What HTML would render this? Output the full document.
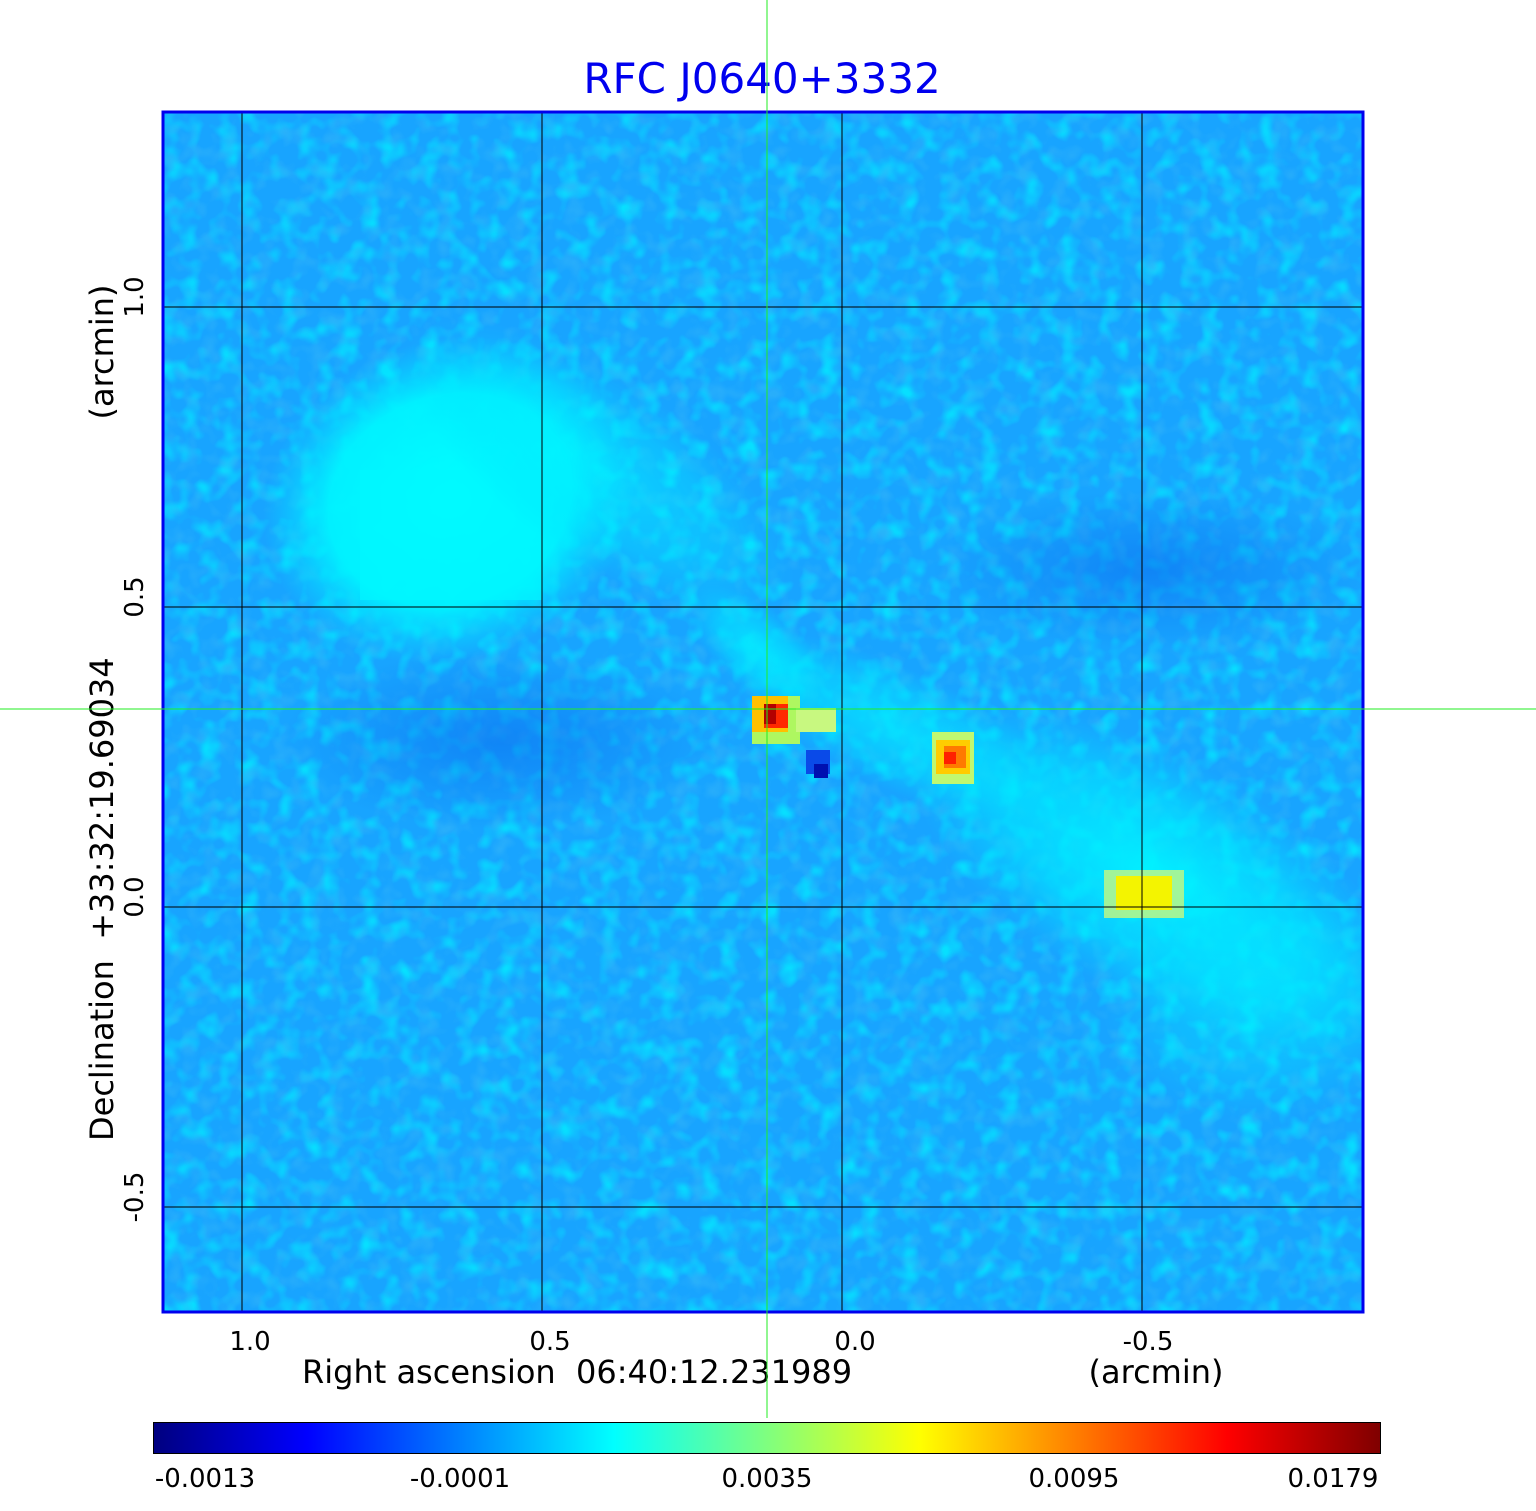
<!DOCTYPE html>
<html><head><meta charset="utf-8"><style>
html,body{margin:0;padding:0;background:#fff;}
svg{display:block;font-family:"DejaVu Sans","Liberation Sans",sans-serif;}
</style></head><body>
<svg width="1536" height="1511" viewBox="0 0 1536 1511" xmlns="http://www.w3.org/2000/svg">
<defs>
<linearGradient id="jet" x1="0" x2="1" y1="0" y2="0">
<stop offset="0" stop-color="#00007f"/><stop offset="0.125" stop-color="#0000ff"/>
<stop offset="0.375" stop-color="#00ffff"/><stop offset="0.5" stop-color="#7fff7f"/>
<stop offset="0.625" stop-color="#ffff00"/><stop offset="0.875" stop-color="#ff0000"/>
<stop offset="1" stop-color="#7f0000"/></linearGradient>
<radialGradient id="cy1" cx="0.5" cy="0.5" r="0.5">
<stop offset="0" stop-color="#00ffff" stop-opacity="1"/><stop offset="0.65" stop-color="#00f4ff" stop-opacity="0.95"/><stop offset="1" stop-color="#00e0ff" stop-opacity="0"/></radialGradient>
<radialGradient id="cy2" cx="0.5" cy="0.5" r="0.5">
<stop offset="0" stop-color="#00f6ff" stop-opacity="0.95"/><stop offset="0.6" stop-color="#00e8ff" stop-opacity="0.6"/><stop offset="1" stop-color="#00d8ff" stop-opacity="0"/></radialGradient>
<radialGradient id="dk" cx="0.5" cy="0.5" r="0.5">
<stop offset="0" stop-color="#0a70f0" stop-opacity="0.6"/><stop offset="1" stop-color="#0a70f0" stop-opacity="0"/></radialGradient>
<filter id="nz" x="0" y="0" width="100%" height="100%">
<feTurbulence type="fractalNoise" baseFrequency="0.05" numOctaves="2" seed="4"/>
<feColorMatrix type="matrix" values="0 0 0 0 0  0 0 0 0 0.95  0 0 0 0 1  2.5 0 0 0 -1.15"/>
</filter>
<filter id="nz2" x="0" y="0" width="100%" height="100%">
<feTurbulence type="fractalNoise" baseFrequency="0.055" numOctaves="2" seed="11"/>
<feColorMatrix type="matrix" values="0 0 0 0 0.03  0 0 0 0 0.45  0 0 0 0 0.95  2.5 0 0 0 -1.2"/>
</filter>
<clipPath id="pc"><rect x="162" y="111" width="1202" height="1202"/></clipPath>
</defs>
<text x="762" y="93" font-size="42" fill="#0000ee" text-anchor="middle">RFC J0640+3332</text>
<g clip-path="url(#pc)">
<rect x="162" y="111" width="1202" height="1202" fill="#18a4ff"/>
<rect x="162" y="111" width="1202" height="1202" filter="url(#nz)" opacity="0.7"/>
<rect x="162" y="111" width="1202" height="1202" filter="url(#nz2)" opacity="0.7"/>
<ellipse cx="450" cy="500" rx="190" ry="160" fill="url(#cy1)" transform="rotate(-20 450 500)"/>
<rect x="360" y="470" width="182" height="130" fill="#00f8ff" opacity="0.7"/>
<ellipse cx="600" cy="470" rx="230" ry="90" fill="url(#cy2)" opacity="0.6" transform="rotate(35 600 470)"/>
<ellipse cx="1160" cy="880" rx="280" ry="120" fill="url(#cy2)" transform="rotate(30 1160 880)"/>
<ellipse cx="1260" cy="1000" rx="160" ry="120" fill="url(#cy2)" opacity="0.5"/>
<ellipse cx="900" cy="730" rx="200" ry="60" fill="url(#cy2)" opacity="0.7" transform="rotate(25 900 730)"/>
<ellipse cx="760" cy="650" rx="90" ry="40" fill="url(#cy2)" opacity="0.8" transform="rotate(40 760 650)"/>
<ellipse cx="1150" cy="570" rx="220" ry="80" fill="url(#dk)"/>
<ellipse cx="500" cy="740" rx="220" ry="90" fill="url(#dk)"/>
<rect x="752" y="696" width="48" height="48" fill="#aef760"/>
<rect x="796" y="708" width="40" height="24" fill="#c8f880"/>
<rect x="752" y="696" width="36" height="36" fill="#ffc000"/>
<rect x="764" y="704" width="24" height="24" fill="#ff2800"/>
<rect x="764" y="704" width="12" height="20" fill="#b40000"/>
<rect x="806" y="750" width="24" height="24" fill="#0a4ae8"/>
<rect x="814" y="764" width="14" height="14" fill="#0010b0"/>
<rect x="932" y="732" width="42" height="52" fill="#c0f870"/>
<rect x="936" y="740" width="34" height="34" fill="#ffcc00"/>
<rect x="944" y="746" width="22" height="22" fill="#ff7a00"/>
<rect x="944" y="752" width="12" height="12" fill="#ff2000"/>
<rect x="1104" y="870" width="80" height="48" fill="#c8f880" opacity="0.8"/>
<rect x="1116" y="876" width="56" height="34" fill="#f4f400"/>
<g stroke="#000" stroke-width="1" shape-rendering="crispEdges">
<line x1="242" y1="111" x2="242" y2="1313"/><line x1="542" y1="111" x2="542" y2="1313"/>
<line x1="842" y1="111" x2="842" y2="1313"/><line x1="1142" y1="111" x2="1142" y2="1313"/>
<line x1="162" y1="307" x2="1364" y2="307"/><line x1="162" y1="607" x2="1364" y2="607"/>
<line x1="162" y1="907" x2="1364" y2="907"/><line x1="162" y1="1207" x2="1364" y2="1207"/>
</g>
</g>
<rect x="163" y="112" width="1200" height="1200" fill="none" stroke="#0000ee" stroke-width="3"/>
<g font-size="26" fill="#000" text-anchor="middle">
<text x="250" y="1350">1.0</text><text x="550" y="1350">0.5</text>
<text x="855" y="1350">0.0</text><text x="1148" y="1350">-0.5</text>
<text transform="translate(143 297) rotate(-90)">1.0</text>
<text transform="translate(143 597) rotate(-90)">0.5</text>
<text transform="translate(143 897) rotate(-90)">0.0</text>
<text transform="translate(143 1197) rotate(-90)">-0.5</text>
</g>
<g font-size="32" fill="#000">
<text x="302" y="1383" xml:space="preserve">Right ascension  06:40:12.231989</text>
<text x="1156" y="1383" text-anchor="middle">(arcmin)</text>
<text transform="translate(113 1141) rotate(-90)" xml:space="preserve">Declination  +33:32:19.69034</text>
<text transform="translate(113 352) rotate(-90)" text-anchor="middle">(arcmin)</text>
</g>
<rect x="153.5" y="1422.5" width="1227" height="31" fill="url(#jet)" stroke="#000" stroke-width="1"/>
<g font-size="26" fill="#000" text-anchor="middle">
<text x="205" y="1487">-0.0013</text><text x="460" y="1487">-0.0001</text>
<text x="767" y="1487">0.0035</text><text x="1074" y="1487">0.0095</text>
<text x="1333" y="1487">0.0179</text>
</g>
<g stroke="#22ee22" stroke-width="1" shape-rendering="crispEdges">
<line x1="767" y1="0" x2="767" y2="1418"/>
<line x1="0" y1="709" x2="1536" y2="709"/>
</g>
</svg>
</body></html>
